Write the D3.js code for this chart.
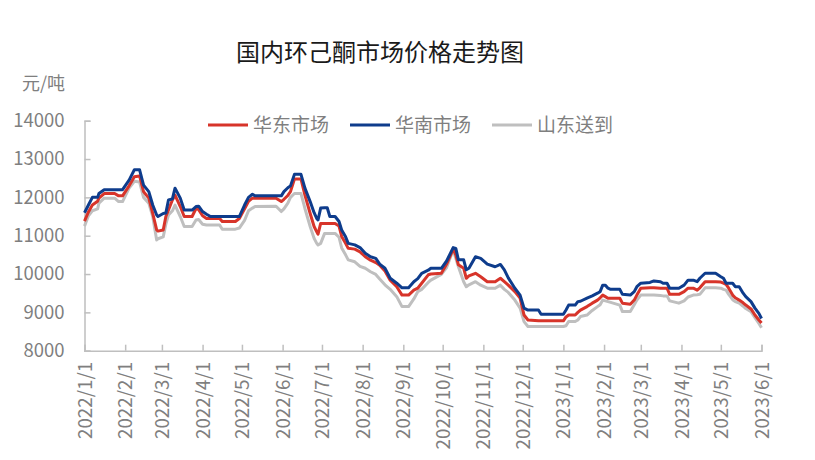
<!DOCTYPE html>
<html><head><meta charset="utf-8">
<script src="https://cdn.jsdelivr.net/npm/d3@7"></script>
<style>body{margin:0;background:#fff}svg{display:block}</style>
</head><body>
<svg id="c" width="815" height="460"></svg>
<script>
const title = "国内环己酮市场价格走势图";
const unitLabel = "元/吨";
const seriesNames = ["华东市场", "华南市场", "山东送到"];
const seriesColors = ["#d7342a", "#0e3c8c", "#bfbfbf"];
const yTicks = [8000, 9000, 10000, 11000, 12000, 13000, 14000];
const xTickDates = ["2022-01-01","2022-02-01","2022-03-01","2022-04-01","2022-05-01","2022-06-01","2022-07-01","2022-08-01","2022-09-01","2022-10-01","2022-11-01","2022-12-01","2023-01-01","2023-02-01","2023-03-01","2023-04-01","2023-05-01","2023-06-01"];

const dates = ["2022-01-01","2022-01-04","2022-01-07","2022-01-11","2022-01-12","2022-01-16","2022-01-24","2022-01-27","2022-01-30","2022-02-04",
"2022-02-08","2022-02-12","2022-02-15","2022-02-19","2022-02-22","2022-02-25","2022-02-26","2022-03-02","2022-03-04","2022-03-06",
"2022-03-09","2022-03-11","2022-03-15","2022-03-18","2022-03-24","2022-03-27","2022-03-29","2022-04-01","2022-04-04","2022-04-07",
"2022-04-14","2022-04-16","2022-04-26","2022-04-29","2022-05-03","2022-05-06","2022-05-09","2022-05-11","2022-05-27","2022-05-31",
"2022-06-02","2022-06-05","2022-06-07","2022-06-10","2022-06-15","2022-06-18","2022-06-22","2022-06-25","2022-06-27","2022-06-28",
"2022-06-30","2022-07-03","2022-07-05","2022-07-07","2022-07-11","2022-07-14","2022-07-16","2022-07-19","2022-07-21","2022-07-26",
"2022-07-30","2022-08-03","2022-08-07","2022-08-11","2022-08-14","2022-08-18","2022-08-22","2022-08-27","2022-08-31","2022-09-05",
"2022-09-09","2022-09-12","2022-09-15","2022-09-20","2022-09-22","2022-09-30","2022-10-04","2022-10-09","2022-10-11","2022-10-13",
"2022-10-17","2022-10-19","2022-10-21","2022-10-26","2022-10-30","2022-11-04","2022-11-10","2022-11-14","2022-11-17","2022-11-20",
"2022-11-25","2022-11-29","2022-12-02","2022-12-05","2022-12-13","2022-12-15","2023-01-01","2023-01-03","2023-01-05","2023-01-10",
"2023-01-12","2023-01-14","2023-01-19","2023-01-23","2023-01-27","2023-01-29","2023-01-31","2023-02-02","2023-02-04","2023-02-06",
"2023-02-13","2023-02-15","2023-02-21","2023-02-24","2023-02-26","2023-03-01","2023-03-08","2023-03-11","2023-03-16","2023-03-18",
"2023-03-21","2023-03-23","2023-03-30","2023-04-03","2023-04-06","2023-04-10","2023-04-13","2023-04-15","2023-04-19","2023-04-27",
"2023-05-01","2023-05-03","2023-05-05","2023-05-07","2023-05-10","2023-05-12","2023-05-15","2023-05-18","2023-05-20","2023-05-24",
"2023-05-27","2023-05-30","2023-06-01"];

// 华南市场
const southChina = [11600,11800,12000,12000,12100,12200,12200,12200,12200,12450,
12720,12720,12320,12150,11800,11540,11500,11580,11590,11930,
11960,12240,11980,11670,11670,11760,11770,11630,11560,11500,
11500,11500,11500,11500,11800,12000,12080,12040,12040,12040,
12150,12250,12300,12600,12600,12240,11890,11600,11450,11410,
11720,11730,11730,11500,11500,11370,11150,10970,10800,10760,
10690,10540,10450,10410,10260,10150,9890,9760,9640,9640,
9800,9880,10020,10100,10150,10150,10340,10690,10670,10370,
10370,10110,10150,10450,10410,10260,10190,10250,10110,9900,
9630,9450,9110,9060,9060,8950,8950,9060,9190,9190,
9280,9290,9370,9430,9500,9540,9710,9710,9630,9600,
9600,9470,9450,9540,9670,9760,9780,9820,9800,9760,
9760,9630,9630,9710,9840,9840,9800,9890,10020,10020,
9930,9890,9760,9760,9760,9670,9670,9500,9410,9280,
9110,8975,8840];

// 华东市场
const eastChina = [11380,11620,11800,11900,11980,12100,12100,12040,12040,12300,
12540,12560,12150,11980,11580,11150,11120,11150,11500,11670,
11930,12060,11760,11500,11500,11710,11680,11520,11450,11450,
11450,11370,11370,11450,11700,11900,11980,11980,11980,11890,
11950,12050,12150,12480,12480,12060,11580,11240,11100,11040,
11320,11320,11320,11320,11320,11250,10980,10800,10670,10650,
10580,10450,10360,10300,10230,10080,9840,9670,9450,9450,
9580,9630,9760,9980,10000,10020,10260,10650,10500,10240,
10150,9890,9950,10020,9930,9800,9800,9890,9800,9710,
9540,9370,8930,8800,8780,8780,8780,8880,8930,8930,
9000,9060,9150,9240,9320,9380,9450,9410,9370,9370,
9370,9240,9210,9320,9450,9630,9640,9640,9630,9630,
9630,9470,9470,9540,9630,9630,9580,9640,9800,9800,
9790,9760,9730,9630,9450,9380,9320,9250,9190,9090,
8930,8800,8720];

// 山东送到
const shandong = [11250,11520,11650,11700,11850,11980,11980,11890,11890,12240,
12420,12400,12000,11850,11500,10890,10920,10970,11300,11540,
11650,11800,11500,11240,11240,11410,11420,11300,11280,11280,
11280,11170,11170,11200,11400,11650,11720,11760,11770,11630,
11700,11850,12000,12100,12100,11710,11240,10930,10800,10760,
10800,11060,11060,11060,11060,10960,10680,10500,10370,10320,
10200,10150,10060,9990,9870,9720,9600,9410,9150,9150,
9350,9540,9600,9780,9840,9990,10170,10630,10410,10190,
9800,9670,9720,9800,9710,9630,9630,9710,9600,9520,
9320,9110,8760,8630,8630,8630,8630,8650,8760,8760,
8800,8890,8930,9050,9150,9200,9320,9300,9280,9260,
9190,9020,9020,9200,9320,9450,9450,9450,9440,9430,
9430,9300,9240,9300,9400,9450,9460,9470,9640,9640,
9630,9600,9580,9470,9330,9280,9240,9160,9100,9020,
8860,8710,8600];

const parse = d3.timeParse("%Y-%m-%d");
const fmt = d3.timeFormat("%Y/%-m/%-d");
const svg = d3.select("#c");
const x0 = 84.5, x1 = 761.5, yTop = 120.7, yBot = 350.7;

const x = d3.scaleTime().domain([parse("2022-01-01"), parse("2023-06-01")]).range([x0, x1]);
const y = d3.scaleLinear().domain([8000, 14000]).range([yBot, yTop]);

const axisColor = "#bfbfbf", textColor = "#7f7f7f";
const numFont = "'Noto Sans CJK SC', 'Noto Sans', sans-serif";

// Title
svg.append("text").attr("x", 380).attr("y", 61).attr("text-anchor", "middle")
  .attr("font-family", numFont).attr("font-size", 24).attr("fill", "#1a1a1a").text(title);
svg.append("text").attr("x", 65).attr("y", 90).attr("text-anchor", "end")
  .attr("font-family", numFont).attr("font-size", 18).attr("fill", textColor).text(unitLabel);

// Y axis
const gy = svg.append("g").attr("transform", `translate(${x0},0)`)
  .call(d3.axisLeft(y).tickValues(yTicks).tickSize(-6).tickPadding(20).tickFormat(d3.format("d")));
gy.select(".domain").attr("stroke", axisColor).attr("stroke-width", 1.5);
gy.selectAll(".tick line").attr("stroke", axisColor).attr("stroke-width", 1.5);
gy.selectAll(".tick text").attr("font-family", numFont).attr("font-size", 18.5).attr("fill", textColor);

// X axis
const gx = svg.append("g").attr("transform", `translate(0,${yBot})`)
  .call(d3.axisBottom(x).tickValues(xTickDates.map(parse)).tickSize(-6).tickPadding(0).tickFormat(fmt));
gx.select(".domain").attr("stroke", axisColor).attr("stroke-width", 1.5);
gx.selectAll(".tick line").attr("stroke", axisColor).attr("stroke-width", 1.5);
gx.selectAll(".tick text").attr("font-family", numFont).attr("font-size", 18.8).attr("fill", textColor)
  .attr("transform", "rotate(-90)").attr("text-anchor", "end").attr("x", -11).attr("y", 0).attr("dy", "0.35em");

// Lines
const pts = dates.map(parse);
const seriesData = [eastChina, southChina, shandong];
const line = d3.line().x((d, i) => x(pts[i])).y(d => y(d));
[2, 0, 1].forEach(k => {
  svg.append("path").datum(seriesData[k]).attr("d", line).attr("fill", "none")
    .attr("stroke", seriesColors[k]).attr("stroke-width", 3).attr("stroke-linejoin", "round");
});

// Legend
const legendX = [208, 350, 492];
seriesNames.forEach((n, k) => {
  const g = svg.append("g").attr("transform", `translate(${legendX[k]},125)`);
  g.append("line").attr("x1", 0).attr("x2", 40).attr("y1", 0).attr("y2", 0)
    .attr("stroke", seriesColors[k]).attr("stroke-width", 3);
  g.append("text").attr("x", 45).attr("y", 0).attr("dy", "0.35em")
    .attr("font-family", numFont).attr("font-size", 19).attr("fill", textColor).text(n);
});
</script>
</body></html>
